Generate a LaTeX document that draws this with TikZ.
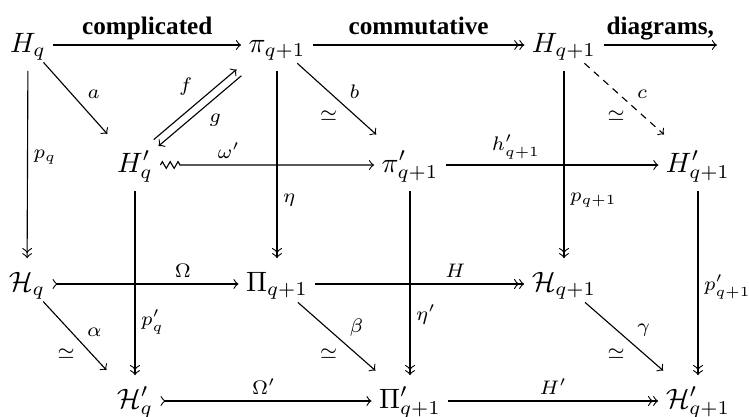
\documentclass[tikz,border=0pt]{standalone}
\usepackage{amsmath,amssymb}
\usepackage{fontspec}
\newfontfamily\wordfont{Liberation Serif}
\usetikzlibrary{decorations.pathmorphing}

\begin{document}
\begin{tikzpicture}[x=0.357pt,y=-0.357pt,>=to,
  obj/.style={inner sep=2.5pt,text height=9pt,text depth=4pt},
  lab/.style={font=\scriptsize,inner sep=2pt},
  word/.style={font=\wordfont\bfseries\fontsize{9}{10}\selectfont,
    inner sep=1.4pt,text depth=2.2pt},
  diag/.style={shorten <=-4pt,shorten >=2.5pt}]
  \useasboundingbox (0,0) rectangle (749,417);
  \node[obj] (Hq)    at (28,45)   {$H_q$};
  \node[obj] (pi)    at (277,45)  {$\pi_{q+1}$};
  \node[obj] (Hq1)   at (564,45)  {$H_{q+1}$};
  \coordinate (tail) at (717,45);
  \node[obj] (Hpq)   at (135,165) {$H'_q$};
  \node[obj] (pip)   at (410,165) {$\pi'_{q+1}$};
  \node[obj] (Hpq1)  at (698,165) {$H'_{q+1}$};
  \node[obj] (cHq)   at (27,284)  {$\mathcal{H}_q$};
  \node[obj] (Pi)    at (277,284) {$\Pi_{q+1}$};
  \node[obj] (cHq1)  at (564,284) {$\mathcal{H}_{q+1}$};
  \node[obj] (cHpq)  at (135,401) {$\mathcal{H}'_q$};
  \node[obj] (Pip)   at (410,401) {$\Pi'_{q+1}$};
  \node[obj] (cHpq1) at (698,401) {$\mathcal{H}'_{q+1}$};

  \draw[->] (Hq) -- node[word,above] {complicated} (pi);
  \draw[->>] (pi) -- node[word,above] {commutative} (Hq1);
  \draw[->] (Hq1) -- node[word,above] {diagrams,} (tail);

  \draw[->,diag] (Hq) -- node[lab,above right] {$a$} (Hpq);
  \draw[->,shorten <=-2pt,shorten >=1pt,transform canvas={xshift=-.86pt,yshift=1.14pt}]
    (Hpq.north east) -- node[lab,above left] {$f$} (pi.south west);
  \draw[->,shorten <=1pt,shorten >=-2pt,transform canvas={xshift=.86pt,yshift=-1.14pt}]
    (pi.south west) -- node[lab,below right] {$g$} (Hpq.north east);
  \draw[->,diag] (pi) -- node[lab,above right] {$b$}
    node[lab,below left] {$\simeq$} (pip);
  \draw[->,diag,dash pattern=on 2.5pt off 2pt] (Hq1) --
    node[lab,above right] {$c$} node[lab,below left] {$\simeq$} (Hpq1);

  \draw[->,decorate,decoration={zigzag,amplitude=1.2pt,segment length=2.8pt,
    post=lineto,post length=69pt}]
    (Hpq) -- node[lab,above,pos=.32] {$\omega'$} (pip);
  \draw[->] (pip) -- node[lab,above,pos=.33] {$h'_{q+1}$} (Hpq1);

  \draw[->>] (Hq) -- node[lab,right,pos=.46] {$p_q$} (cHq);
  \draw[->>] (pi) -- node[lab,right,pos=.69] {$\eta$} (Pi);
  \draw[->>] (Hq1) -- node[lab,right,pos=.69] {$p_{q+1}$} (cHq1);
  \draw[->>] (Hpq) -- node[lab,right,pos=.71] {$p'_q$} (cHpq);
  \draw[->>] (pip) -- node[lab,right,pos=.67] {$\eta'$} (Pip);
  \draw[->>] (Hpq1) -- node[lab,right,pos=.52] {$p'_{q+1}$} (cHpq1);

  \draw[>->] (cHq) -- node[lab,above,pos=.7] {$\Omega$} (Pi);
  \draw[->>] (Pi) -- node[lab,above,pos=.67] {$H$} (cHq1);
  \draw[>->] (cHpq) -- node[lab,above,pos=.49] {$\Omega'$} (Pip);
  \draw[->>] (Pip) -- node[lab,above,pos=.5] {$H'$} (cHpq1);

  \draw[->,diag] (cHq) -- node[lab,above right] {$\alpha$}
    node[lab,below left] {$\simeq$} (cHpq);
  \draw[->,diag] (Pi) -- node[lab,above right] {$\beta$}
    node[lab,below left] {$\simeq$} (Pip);
  \draw[->,diag] (cHq1) -- node[lab,above right] {$\gamma$}
    node[lab,below left] {$\simeq$} (cHpq1);
\end{tikzpicture}
\end{document}
